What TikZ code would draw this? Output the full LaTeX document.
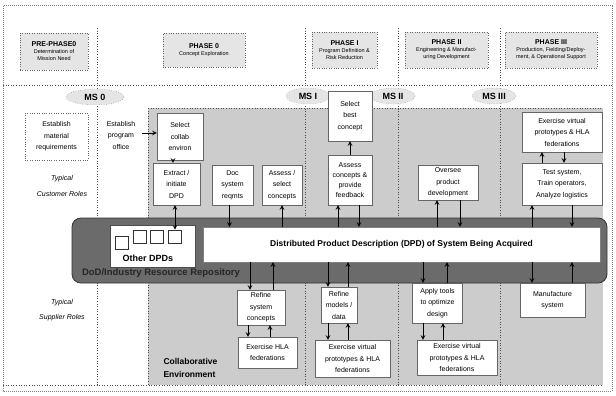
\documentclass[tikz,border=0pt]{standalone}
\usepackage{fontspec}
\setmainfont{Liberation Sans}
\usepackage{tikz}
\usetikzlibrary{arrows,shapes,calc,positioning}
\definecolor{grisClaro}{gray}{0.90}
\definecolor{grisMedio}{gray}{0.80}
\definecolor{grisOscuro}{gray}{0.42}
\tikzstyle{edge}    =[->, >=stealth, line width=1pt]
\tikzstyle{dedge}   =[<->, >=stealth, line width=1pt]
\tikzstyle{divider} =[dotted, line width=0.6pt, black!70]
\tikzstyle{role}    =[rectangle, draw=black!60, fill=white,
                      line width=0.4pt, align=center, inner sep=1pt,
                      font=\fontsize{7}{11.5}\selectfont]
\tikzstyle{phasebox}=[rectangle, draw=black!60, dotted, fill=grisClaro,
                      align=center, inner sep=1pt,
                      font=\fontsize{5.5}{7}\selectfont]
\tikzstyle{milestone}=[ellipse, draw=black!60, dotted, fill=grisClaro,
                      inner sep=0pt, minimum height=16pt, minimum width=44pt,
                      font=\bfseries\fontsize{9}{9}\selectfont]
\tikzstyle{dpdsq}   =[rectangle, draw=black!80, fill=white,
                      minimum size=13pt, inner sep=0pt, line width=0.6pt]
\begin{document}
\begin{tikzpicture}[x=1pt, y=-1pt]
    \useasboundingbox (0,0) rectangle (616,396);

    % frame, phases and collaborative region
    \fill[grisMedio] (148,108) rectangle (603,385);
    \draw[gray, densely dotted, line width=1pt] (3,6) rectangle (612,391);
    \draw[divider] (3,85) -- (612,85);
    \foreach \x in {97,305,398,500}
        \draw[divider] (\x,28) -- (\x,385);
    \draw[divider] (148,108) -- (603,108);
    \draw[divider] (148,108) -- (148,385);
    \draw[divider] (3,385) -- (603,385);

    % phase headers
    \node[phasebox, minimum width=68pt, minimum height=37pt] (pre) at (54,51.5)
        {\textbf{\fontsize{7}{8.5}\selectfont PRE-PHASE0}\\Determination of\\Mission Need};
    \node[phasebox, minimum width=82pt, minimum height=34pt] (ph0) at (204,50)
        {\textbf{\fontsize{7}{8.5}\selectfont PHASE 0}\\Concept Exploration};
    \node[phasebox, minimum width=65pt, minimum height=36pt] (ph1) at (344.5,50)
        {\textbf{\fontsize{7}{8.5}\selectfont PHASE I}\\Program Definition \&\\Risk Reduction};
    \node[phasebox, minimum width=83pt, minimum height=36pt] (ph2) at (446.5,50)
        {\textbf{\fontsize{7}{8.5}\selectfont PHASE II}\\Engineering \& Manufact-\\uring Development};
    \node[phasebox, minimum width=92pt, minimum height=36pt] (ph3) at (551,50)
        {\textbf{\fontsize{7}{8.5}\selectfont PHASE III}\\Production, Fielding/Deploy-\\ment, \& Operational Support};

    % milestones
    \node[milestone, minimum width=58pt] (ms0) at (95,97) {MS 0};
    \node[milestone] (ms1) at (308,96) {MS I};
    \node[milestone] (ms2) at (393,96) {MS II};
    \node[milestone] (ms3) at (494,96) {MS III};

    % row labels
    \node[font=\itshape\fontsize{7}{16}\selectfont, align=center] (cust) at (62,186)
        {Typical\\Customer Roles};
    \node[font=\itshape\fontsize{7}{15}\selectfont, align=center] (supp) at (62,310)
        {Typical\\Supplier Roles};
    \node[font=\bfseries\fontsize{8.5}{13}\selectfont, align=left, anchor=west] (collabenv)
        at (160,368) {Collaborative\\Environment};

    % repository band
    \node[rectangle, rounded corners=9pt, fill=grisOscuro, draw=black!80,
          line width=0.8pt, minimum width=535pt, minimum height=65pt] (repo) at (339.5,250.5) {};
    \node[rectangle, fill=white, draw=black!70, minimum width=85pt,
          minimum height=42pt] (otherdpd) at (152.5,246) {};
    \node[font=\bfseries\fontsize{9}{9}\selectfont] (otherlbl) at (148,258) {Other DPDs};
    \foreach \i/\x/\y in {1/121.5/242.5, 2/140/236.5, 3/156.5/236.5, 4/175/236.5}
        \node[dpdsq] (sq\i) at (\x,\y) {};
    \node[rectangle, fill=white, draw=black!50, minimum width=397pt, minimum height=35pt,
          font=\bfseries\fontsize{8.5}{9}\selectfont] (dpd) at (401.5,244.5)
        {Distributed Product Description (DPD) of System Being Acquired};
    \node[font=\bfseries\fontsize{9.5}{9.5}\selectfont, text=black!85] (repolbl) at (161,273)
        {DoD/Industry Resource Repository};

    % customer roles
    \node[role, dotted, minimum width=63pt, minimum height=47pt] (matreq) at (56.5,136.5)
        {Establish\\material\\requirements};
    \node[role, draw=none, minimum width=42pt, minimum height=44pt] (progoff) at (121,135)
        {Establish\\program\\office};
    \node[role, minimum width=46pt, minimum height=47pt] (collab) at (180,136.5)
        {Select\\collab\\environ};
    \node[role, minimum width=47pt, minimum height=42pt] (extract) at (176.5,184)
        {Extract /\\initiate\\DPD};
    \node[role, minimum width=41pt, minimum height=40pt] (docreq) at (232.5,185)
        {Doc\\system\\reqmts};
    \node[role, minimum width=40pt, minimum height=40pt] (assel) at (282,185)
        {Assess /\\select\\concepts};
    \node[role, minimum width=44pt, minimum height=50pt] (bestc) at (350,116)
        {Select\\best\\concept};
    \node[role, minimum width=44pt, minimum height=50pt,
          font=\fontsize{7}{10}\selectfont] (feedb) at (350,180)
        {Assess\\concepts \&\\provide\\feedback};
    \node[role, minimum width=60pt, minimum height=35pt] (oversee) at (448,182.5)
        {Oversee\\product\\development};
    \node[role, minimum width=80pt, minimum height=40pt] (exvp) at (562,132)
        {Exercise virtual\\prototypes \& HLA\\federations};
    \node[role, minimum width=80pt, minimum height=42pt] (testsys) at (562,184)
        {Test system,\\Train operators,\\Analyze logistics};

    % supplier roles
    \node[role, minimum width=48pt, minimum height=35pt] (refsys) at (261,307.5)
        {Refine\\system\\concepts};
    \node[role, minimum width=59pt, minimum height=31pt] (exhla) at (267.5,352.5)
        {Exercise HLA\\federations};
    \node[role, minimum width=36pt, minimum height=36pt] (refmod) at (339,305)
        {Refine\\models /\\data};
    \node[role, minimum width=75pt, minimum height=37pt] (exvpa) at (352.5,358.5)
        {Exercise virtual\\prototypes \& HLA\\federations};
    \node[role, minimum width=50pt, minimum height=40pt] (apply) at (437.5,303)
        {Apply tools\\to optimize\\design};
    \node[role, minimum width=80pt, minimum height=35pt] (exvpb) at (457,357.5)
        {Exercise virtual\\prototypes \& HLA\\federations};
    \node[role, minimum width=65pt, minimum height=34pt] (manuf) at (552.5,300)
        {Manufacture\\system};

    % customer side connectors
    \draw[edge] (progoff.east |- 0,133) -- (collab.west |- 0,133);
    \draw[edge] ([xshift=-7pt]collab.south) -- ([xshift=-7pt]collab.south |- extract.north);
    \draw[dedge] (extract.south -| sq4.north) -- (sq4.north);
    \draw[edge] (feedb.north) -- (bestc.south);
    \draw[edge] ([xshift=-20pt]testsys.north) -- ([xshift=-20pt]testsys.north |- exvp.south);
    \draw[edge] ([xshift=2pt]exvp.south) -- ([xshift=2pt]exvp.south |- testsys.north);

    \foreach \n/\dx in {docreq/-3, feedb/9, oversee/12, testsys/10}
        \draw[edge] ([xshift=\dx pt]\n.south) -- ([xshift=\dx pt]\n.south |- dpd.north);
    \foreach \n/\dx in {assel/0, feedb/-12, oversee/-11, testsys/-30}
        \draw[edge] ([xshift=\dx pt]\n.south |- dpd.north) -- ([xshift=\dx pt]\n.south);

    % supplier side connectors
    \foreach \n/\dx in {refsys/-11, refmod/-11, apply/-14.5, manuf/-20.5}
        \draw[edge] ([xshift=\dx pt]\n.north |- dpd.south) -- ([xshift=\dx pt]\n.north);
    \foreach \n/\dx in {refsys/12, refmod/9, apply/9.5, manuf/19.5}
        \draw[edge] ([xshift=\dx pt]\n.north) -- ([xshift=\dx pt]\n.north |- dpd.south);

    \foreach \n/\m/\dx in {refsys/exhla/-13, refmod/exvpa/-11, apply/exvpb/-14.5}
        \draw[edge] ([xshift=\dx pt]\n.south) -- ([xshift=\dx pt]\n.south |- \m.north);
    \foreach \n/\m/\dx in {refsys/exhla/9, refmod/exvpa/9, apply/exvpb/5.5}
        \draw[edge] ([xshift=\dx pt]\n.south |- \m.north) -- ([xshift=\dx pt]\n.south);

\end{tikzpicture}
\end{document}
